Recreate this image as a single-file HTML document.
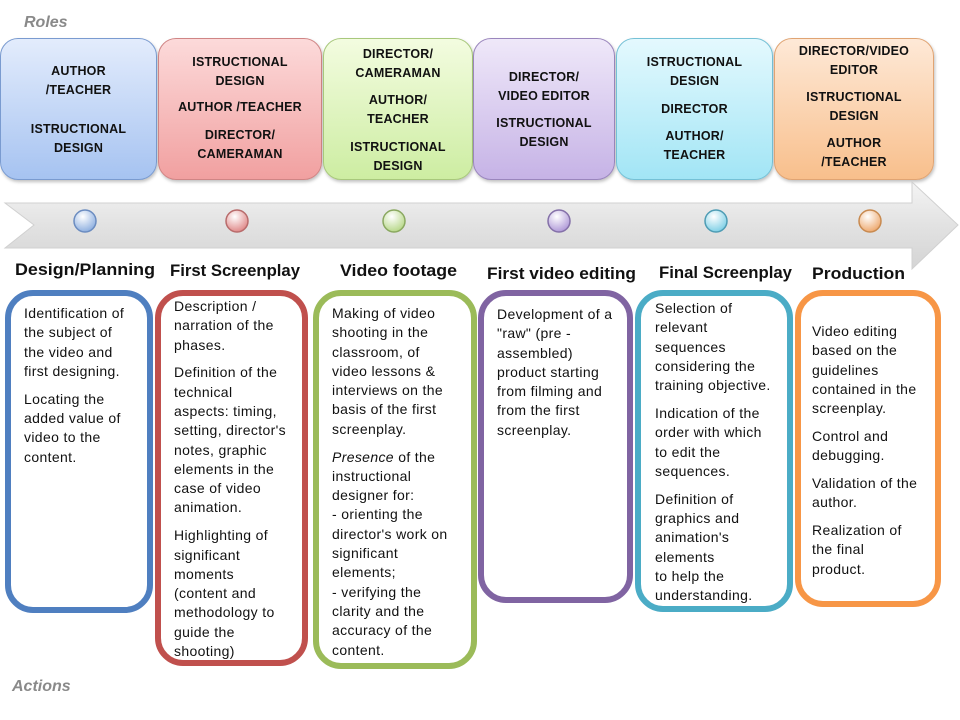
<!DOCTYPE html>
<html><head><meta charset="utf-8"><style>
body{margin:0;width:960px;height:720px;background:#fff;position:relative;overflow:hidden;font-family:"Liberation Sans",sans-serif;}
.rb{position:absolute;top:38px;height:142px;border-radius:18px;box-sizing:border-box;border:1px solid;box-shadow:1px 2px 3px rgba(0,0,0,.25);}
.rt{position:absolute;font-weight:bold;font-size:12.5px;letter-spacing:0.2px;text-align:center;color:#111;line-height:19px;white-space:nowrap;}
.ab{position:absolute;top:290px;border:6px solid;border-radius:28px;box-sizing:border-box;background:#fff;}
.at{position:absolute;font-size:14px;letter-spacing:0.35px;line-height:19.3px;color:#111;white-space:nowrap;}
.at p{margin:8.5px 0 0 0}.at p:first-child{margin:0}
.lab{position:absolute;font-style:italic;font-weight:bold;color:#8a8a8a;font-size:16px;}
</style></head><body>
<div class="lab" style="left:24px;top:14px">Roles</div>
<div class="lab" style="left:12px;top:678px">Actions</div>

<div class="rb" style="left:0;width:157px;background:linear-gradient(#e3ecfc,#a6c3f1);border-color:#7a9bd0"></div>
<div class="rb" style="left:158px;width:164px;background:linear-gradient(#fcdada,#f1a0a0);border-color:#d08585"></div>
<div class="rb" style="left:323px;width:150px;background:linear-gradient(#f3fce0,#cdeda2);border-color:#a8c87c"></div>
<div class="rb" style="left:473px;width:142px;background:linear-gradient(#efe8f9,#c6b3e6);border-color:#9a86bd"></div>
<div class="rb" style="left:616px;width:157px;background:linear-gradient(#e4f9fe,#a2e5f5);border-color:#75c1d6"></div>
<div class="rb" style="left:774px;width:160px;background:linear-gradient(#fee9d7,#f8bf8c);border-color:#e0a473"></div>

<div class="rt" style="left:0;width:157px;top:62px">AUTHOR<br>/TEACHER<br><div style="height:20px"></div>ISTRUCTIONAL<br>DESIGN</div>
<div class="rt" style="left:158px;width:164px;top:53px">ISTRUCTIONAL<br>DESIGN<div style="height:7px"></div>AUTHOR /TEACHER<div style="height:9px"></div>DIRECTOR/<br>CAMERAMAN</div>
<div class="rt" style="left:323px;width:150px;top:45px">DIRECTOR/<br>CAMERAMAN<div style="height:8px"></div>AUTHOR/<br>TEACHER<div style="height:9px"></div>ISTRUCTIONAL<br>DESIGN</div>
<div class="rt" style="left:473px;width:142px;top:68px">DIRECTOR/<br>VIDEO EDITOR<div style="height:8px"></div>ISTRUCTIONAL<br>DESIGN</div>
<div class="rt" style="left:616px;width:157px;top:53px">ISTRUCTIONAL<br>DESIGN<div style="height:9px"></div>DIRECTOR<div style="height:8px"></div>AUTHOR/<br>TEACHER</div>
<div class="rt" style="left:774px;width:160px;top:42px">DIRECTOR/VIDEO<br>EDITOR<div style="height:8px"></div>ISTRUCTIONAL<br>DESIGN<div style="height:8px"></div>AUTHOR<br>/TEACHER</div>

<svg style="position:absolute;left:0;top:0" width="960" height="720">
<defs>
<linearGradient id="ag" x1="0" y1="0" x2="0" y2="1"><stop offset="0" stop-color="#f4f4f4"/><stop offset="0.5" stop-color="#e2e2e2"/><stop offset="1" stop-color="#d4d4d4"/></linearGradient>
<radialGradient id="b" cx="0.4" cy="0.3" r="0.7"><stop offset="0" stop-color="#fff"/><stop offset="1" stop-color="#8fb0e0"/></radialGradient>
<radialGradient id="r" cx="0.4" cy="0.3" r="0.7"><stop offset="0" stop-color="#fff"/><stop offset="1" stop-color="#e08a8a"/></radialGradient>
<radialGradient id="g" cx="0.4" cy="0.3" r="0.7"><stop offset="0" stop-color="#fff"/><stop offset="1" stop-color="#b8d88a"/></radialGradient>
<radialGradient id="p" cx="0.4" cy="0.3" r="0.7"><stop offset="0" stop-color="#fff"/><stop offset="1" stop-color="#b09ad8"/></radialGradient>
<radialGradient id="c" cx="0.4" cy="0.3" r="0.7"><stop offset="0" stop-color="#fff"/><stop offset="1" stop-color="#80d0e6"/></radialGradient>
<radialGradient id="o" cx="0.4" cy="0.3" r="0.7"><stop offset="0" stop-color="#fff"/><stop offset="1" stop-color="#eeaa70"/></radialGradient>
</defs>
<polygon points="5,203 912,203 912,182 958,225 912,269 912,248 5,248 34,225" fill="url(#ag)" stroke="#d0d0d0"/>
<g stroke-width="1.5">
<circle cx="85" cy="221" r="11" fill="url(#b)" stroke="#6b8cc0"/>
<circle cx="237" cy="221" r="11" fill="url(#r)" stroke="#b86b6b"/>
<circle cx="394" cy="221" r="11" fill="url(#g)" stroke="#8aa860"/>
<circle cx="559" cy="221" r="11" fill="url(#p)" stroke="#8470a8"/>
<circle cx="716" cy="221" r="11" fill="url(#c)" stroke="#4e9cb4"/>
<circle cx="870" cy="221" r="11" fill="url(#o)" stroke="#c88a50"/>
</g>
<g font-family="Liberation Sans, sans-serif" font-weight="bold" font-size="17" fill="#111">
<text x="15" y="275" textLength="140" lengthAdjust="spacingAndGlyphs">Design/Planning</text>
<text x="170" y="276" textLength="130" lengthAdjust="spacingAndGlyphs">First Screenplay</text>
<text x="340" y="276" textLength="117" lengthAdjust="spacingAndGlyphs">Video footage</text>
<text x="487" y="279" textLength="149" lengthAdjust="spacingAndGlyphs">First video editing</text>
<text x="659" y="278" textLength="133" lengthAdjust="spacingAndGlyphs">Final Screenplay</text>
<text x="812" y="279" textLength="93" lengthAdjust="spacingAndGlyphs">Production</text>
</g>
</svg>

<div class="ab" style="left:5px;width:148px;height:323px;border-color:#4f7fc0"></div>
<div class="ab" style="left:155px;width:153px;height:376px;border-color:#c0504d"></div>
<div class="ab" style="left:313px;width:164px;height:379px;border-color:#9bbb59"></div>
<div class="ab" style="left:478px;width:155px;height:313px;border-color:#8064a2"></div>
<div class="ab" style="left:635px;width:158px;height:322px;border-color:#4bacc6"></div>
<div class="ab" style="left:795px;width:146px;height:317px;border-color:#f79646"></div>

<div class="at" style="left:24px;top:304px"><p>Identification of<br>the subject of<br>the video and<br>first designing.</p><p>Locating the<br>added value of<br>video to the<br>content.</p></div>
<div class="at" style="left:174px;top:297px"><p>Description /<br>narration of the<br>phases.</p><p>Definition of the<br>technical<br>aspects: timing,<br>setting, director's<br>notes, graphic<br>elements in the<br>case of video<br>animation.</p><p>Highlighting of<br>significant<br>moments<br>(content and<br>methodology to<br>guide the<br>shooting)</p></div>
<div class="at" style="left:332px;top:304px"><p>Making of video<br>shooting in the<br>classroom, of<br>video lessons &amp;<br>interviews on the<br>basis of the first<br>screenplay.</p><p><i>Presence</i> of the<br>instructional<br>designer for:<br>- orienting the<br>director's work on<br>significant<br>elements;<br>- verifying the<br>clarity and the<br>accuracy of the<br>content.</p></div>
<div class="at" style="left:497px;top:305px"><p>Development of a<br>"raw" (pre -<br>assembled)<br>product starting<br>from filming and<br>from the first<br>screenplay.</p></div>
<div class="at" style="left:655px;top:299px"><p>Selection of<br>relevant<br>sequences<br>considering the<br>training objective.</p><p>Indication of the<br>order with which<br>to edit the<br>sequences.</p><p>Definition of<br>graphics and<br>animation's<br>elements<br>to help the<br>understanding.</p></div>
<div class="at" style="left:812px;top:322px"><p>Video editing<br>based on the<br>guidelines<br>contained in the<br>screenplay.</p><p>Control and<br>debugging.</p><p>Validation of the<br>author.</p><p>Realization of<br>the final<br>product.</p></div>
</body></html>
